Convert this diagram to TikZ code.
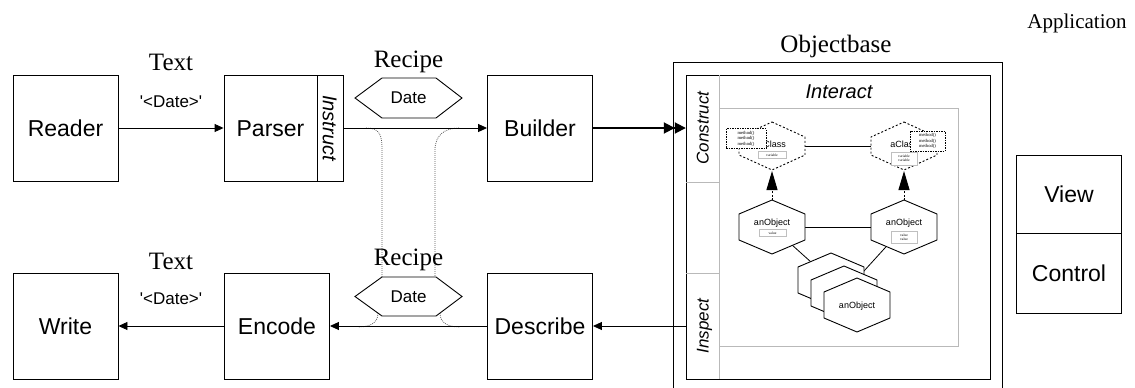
\documentclass[tikz,border=0pt]{standalone}
\usepackage{fontspec}
\setmainfont{Liberation Serif}
\newfontfamily\arial{Liberation Sans}
\usetikzlibrary{arrows.meta}
\tikzset{
  box/.style={draw, line width=0.9pt, minimum width=105pt, minimum height=106pt, inner sep=0pt,
    font=\arial\fontsize{23}{23}\selectfont, text height=16.5pt, text depth=0pt},
  lab/.style={font=\fontsize{25}{25}\selectfont, anchor=base, inner sep=0pt},
  quot/.style={font=\arial\fontsize{17}{17}\selectfont, anchor=base, inner sep=0pt},
  arr/.style={line width=0.9pt, -{Triangle[length=9pt,width=8pt]}},
  dbl/.style={line width=1.8pt, -{Triangle[length=11pt,width=11pt,sep=0pt]Triangle[length=11pt,width=11pt]}},
  recipehex/.style={line width=0.9pt, fill=white},
  dotlink/.style={black!65, line width=0.75pt, dash pattern=on 0.9pt off 1.1pt},
  divider/.style={gray!55, line width=0.8pt},
  collab/.style={inner sep=0pt, font=\arial\itshape\fontsize{17}{17}\selectfont, text height=12.2pt, text depth=0pt},
  small/.style={inner sep=0pt, font=\arial\fontsize{9}{9}\selectfont},
  methodbox/.style={draw, dash pattern=on 1.5pt off 1pt, line width=1pt, fill=white, inner sep=0pt, align=center,
    font=\fontsize{4.6}{5.6}\selectfont},
  varbox/.style={draw=gray!50, line width=0.6pt, fill=white, inner sep=0pt, align=center,
    font=\fontsize{3.6}{4.4}\selectfont},
  objline/.style={line width=0.8pt},
  inh/.style={line width=1pt, dash pattern=on 2pt off 1.5pt, -{Triangle[length=19pt,width=11pt]}},
  clshex/.pic={\draw[dash pattern=on 2pt off 2pt, line width=0.9pt, fill=white]
     (0,-24) -- (33,-9) -- (33,9) -- (0,24) -- (-33,9) -- (-33,-9) -- cycle;},
  objhex/.pic={\draw[line width=0.9pt, fill=white]
     (0,-27) -- (33,-13) -- (33,13) -- (0,27) -- (-33,13) -- (-33,-13) -- cycle;}
}
\begin{document}
\begin{tikzpicture}[x=1pt,y=-1pt]
\useasboundingbox (0,0) rectangle (1135,388);

% ---------- left pipeline ----------
\node[box] (reader) at (65.5,128) {Reader};
\node[box, minimum width=93pt] (parser) at (270.5,128) {Parser};
\node[draw, line width=0.9pt, rotate=-90, minimum width=106pt, minimum height=26pt, inner sep=0pt,
  font=\arial\itshape\fontsize{20}{20}\selectfont, text height=14.3pt, text depth=0pt] (instruct) at (330,128) {Instruct};
\node[box] (builder) at (540,128) {Builder};

\node[box] (write) at (65.5,326) {Write};
\node[box] (encode) at (277,326) {Encode};
\node[box] (describe) at (540,326) {Describe};

\node[lab] (text1) at (171,70) {Text};
\node[quot] (q1) at (171,107) {'<Date>'};
\node[lab] (text2) at (171,269) {Text};
\node[quot] (q2) at (171,304) {'<Date>'};

\draw[arr] (reader) -- (parser);
\draw[arr] (encode) -- (write);

% dotted recipe links
\coordinate (tl) at (366,128);
\coordinate (tr) at (459,128);
\coordinate (bl) at (382,277);
\coordinate (br) at (435,277);
\draw[dotlink] (tl) .. controls (380,128) and (382,135) .. (382,150) -- (bl);
\draw[dotlink] (tr) .. controls (445,128) and (435,135) .. (435,150) -- (br);
\coordinate (hl) at (378,313);
\coordinate (hr) at (440,313);
\coordinate (al) at (358,327);
\coordinate (ar) at (460,327);
\draw[dotlink] (hl) .. controls (378,323) and (370,327) .. (al);
\draw[dotlink] (hr) .. controls (440,323) and (448,327) .. (ar);

\draw[arr] (instruct) -- (builder);
\draw[arr] (describe) -- (encode);

% recipe hexagons
\draw[recipehex] (355,98) -- (382,78) -- (436,78) -- (462,98) -- (436,118) -- (382,118) -- cycle;
\node[font=\arial\fontsize{17}{17}\selectfont, inner sep=0pt] (date1) at (408.5,98) {Date};
\node[lab] (recipe1) at (408.5,67) {Recipe};
\draw[recipehex] (355,296.5) -- (382,277) -- (436,277) -- (462,296.5) -- (436,316) -- (382,316) -- cycle;
\node[font=\arial\fontsize{17}{17}\selectfont, inner sep=0pt] (date2) at (408.5,297) {Date};
\node[lab] (recipe2) at (408.5,265) {Recipe};

% ---------- object base ----------
\draw[line width=0.9pt] (673,395) -- (673,62) -- (1002,62) -- (1002,395);
\node[lab] (objectbase) at (836,52) {Objectbase};
\node[draw, line width=0.9pt, minimum width=304pt, minimum height=304pt, inner sep=0pt] (objbase) at (838,227) {};
\draw[divider] (719,75) -- (719,379);
\draw[divider] (686,182) -- (719,182);
\draw[divider] (686,273) -- (719,273);
\draw[divider] (719,108) rectangle (958,346);
\node[collab, rotate=90, minimum width=107pt, minimum height=33pt] (construct) at (702.5,128) {Construct};
\node[collab, rotate=90, minimum width=106pt, minimum height=33pt] (inspect) at (702.5,326) {Inspect};
\node[inner sep=0pt, font=\arial\itshape\fontsize{20}{20}\selectfont] (interact) at (839,92) {Interact};

\draw[dbl] (builder) -- (construct);
\draw[arr] (inspect) -- (describe);

% inner object diagram
\coordinate (cL) at (772,146);
\coordinate (cR) at (904,146);
\coordinate (oL) at (772,227);
\coordinate (oR) at (904,227);
\coordinate (s1) at (831,280);
\coordinate (s2) at (844,293);
\coordinate (s3) at (857,305);

\draw[objline] (cL) -- (cR);
\draw[objline] (oL) -- (oR);
\draw[objline] (oL) -- (s1);
\draw[objline] (oR) -- (s2);

\pic at (cL) {clshex};
\pic at (cR) {clshex};
\pic at (oL) {objhex};
\pic at (oR) {objhex};
\pic at (s1) {objhex};
\pic at (s2) {objhex};
\pic at (s3) {objhex};

\node[small] (clsLt) at (772,144) {aClass};
\node[small] (clsRt) at (904,144) {aClass};
\node[methodbox, minimum width=40pt, minimum height=20pt] (mL) at (746,138.5) {method()\\method()\\method()};
\node[methodbox, minimum width=35pt, minimum height=20pt] (mR) at (927.5,141) {method()\\method()\\method()};
\node[varbox, minimum width=28pt, minimum height=6.5pt] (vL) at (772,155) {variable};
\node[varbox, minimum width=26pt, minimum height=13pt] (vR) at (904,158.5) {variable\\variable};

\node[small] (objLt) at (772,223) {anObject};
\node[small] (objRt) at (904,223) {anObject};
\node[varbox, minimum width=27pt, minimum height=6.5pt] (valL) at (772.5,233) {value};
\node[varbox, minimum width=26pt, minimum height=12pt] (valR) at (904,237) {value\\value};
\node[small] (objFt) at (857,306) {anObject};

\coordinate (oLtop) at (772,200);
\coordinate (oRtop) at (904,200);
\coordinate (cLbot) at (772,171);
\coordinate (cRbot) at (904,171);
\draw[inh] (oLtop) -- (cLbot);
\draw[inh] (oRtop) -- (cRbot);

% ---------- application ----------
\node[anchor=base, inner sep=0pt, font=\fontsize{21}{21}\selectfont] (application) at (1077,28) {Application};
\node[box, minimum height=78pt] (view) at (1069,194) {View};
\node[box, minimum height=80pt] (control) at (1069,273) {Control};
\end{tikzpicture}
\end{document}
